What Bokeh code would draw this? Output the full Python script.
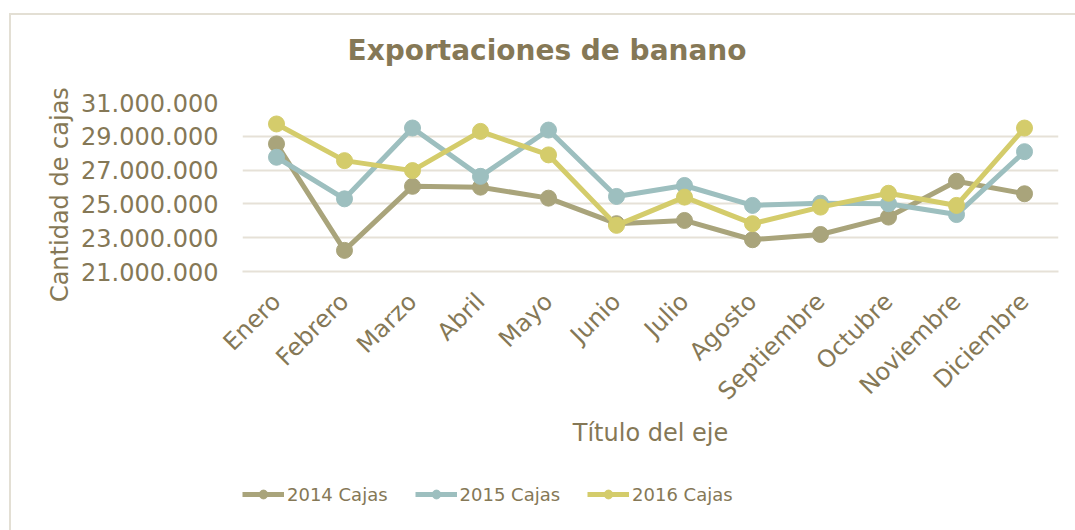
import math
from bokeh.plotting import figure
from bokeh.layouts import column
from bokeh.models import Range1d, FixedTicker, Legend, LegendItem, Label
from bokeh.embed import file_html
from bokeh.resources import INLINE

months = ["Enero", "Febrero", "Marzo", "Abril", "Mayo", "Junio", "Julio",
          "Agosto", "Septiembre", "Octubre", "Noviembre", "Diciembre"]
cajas_2014 = [28550000, 22250000, 26040000, 25990000, 25340000, 23830000,
              24020000, 22880000, 23190000, 24220000, 26340000, 25600000]
cajas_2015 = [27760000, 25300000, 29490000, 26630000, 29370000, 25440000,
              26090000, 24910000, 25040000, 25010000, 24370000, 28090000]
cajas_2016 = [29730000, 27560000, 26970000, 29290000, 27900000, 23730000,
              25400000, 23830000, 24810000, 25630000, 24910000, 29490000]
series = [cajas_2014, cajas_2015, cajas_2016]
series_names = ["2014 Cajas", "2015 Cajas", "2016 Cajas"]
y_ticks = [21000000, 23000000, 25000000, 27000000, 29000000, 31000000]
y_tick_labels = ["21.000.000", "23.000.000", "25.000.000", "27.000.000",
                 "29.000.000", "31.000.000"]
chart_title = "Exportaciones de banano"

colors = ["#A9A47B", "#9DBFBF", "#D4CC6B"]
TEXT = "#857856"
GRID = "#E6E1D7"
BORDER = "#E3DFD4"
FONT = "DejaVu Sans"

OX, OY = 11, 15  # offset of the chart canvas inside the bordered container
W = 1075 - OX


def strip(h):
    f = figure(width=W, height=h, x_range=months, y_range=Range1d(0, 1),
               output_backend="svg", toolbar_location=None,
               x_axis_type=None, y_axis_type=None, min_border=0)
    f.outline_line_color = None
    f.background_fill_color = "white"
    f.border_fill_color = "white"
    f.xgrid.visible = False
    f.ygrid.visible = False
    return f


# title strip
p0 = strip(52)
p0.add_layout(Label(x=105, y=17, x_units="screen", y_units="screen",
                    text=chart_title, text_font=FONT, text_font_size="28px",
                    text_font_style="bold", text_color=TEXT,
                    text_align="left", text_baseline="middle"))

# main chart
p = figure(width=W, height=403, x_range=months,
           y_range=Range1d(21000000, 31000000),
           output_backend="svg", toolbar_location=None,
           min_border_left=242 - OX, min_border_right=17,
           min_border_top=35, min_border_bottom=199)
p.background_fill_color = "white"
p.border_fill_color = "white"
p.outline_line_color = None

for vals, c in zip(series, colors):
    p.line(months, vals, line_color=c, line_width=5)
    p.scatter(months, vals, size=16, fill_color=c, line_color=c)

# y axis
p.yaxis.ticker = FixedTicker(ticks=y_ticks)
p.yaxis.major_label_overrides = {t: lab for t, lab in zip(y_ticks, y_tick_labels)}
p.yaxis.axis_line_color = None
p.yaxis.major_tick_line_color = None
p.yaxis.minor_tick_line_color = None
p.yaxis.major_label_text_font = FONT
p.yaxis.major_label_text_font_size = "24px"
p.yaxis.major_label_text_color = TEXT
p.yaxis.major_label_standoff = 18
p.yaxis.axis_label = "Cantidad de cajas" + "\u00a0" * 2
p.yaxis.axis_label_text_font = FONT
p.yaxis.axis_label_text_font_size = "24px"
p.yaxis.axis_label_text_font_style = "normal"
p.yaxis.axis_label_text_color = TEXT
p.yaxis.axis_label_standoff = 4

# x axis
p.xaxis.axis_line_color = GRID
p.xaxis.axis_line_width = 2
p.xaxis.major_tick_line_color = None
p.xaxis.minor_tick_line_color = None
p.xaxis.major_label_orientation = math.pi / 4
p.xaxis.major_label_text_font = FONT
p.xaxis.major_label_text_font_size = "24px"
p.xaxis.major_label_text_color = TEXT
p.xaxis.major_label_standoff = 20
p.xaxis.axis_label = "Título del eje"
p.xaxis.axis_label_text_font = FONT
p.xaxis.axis_label_text_font_size = "24px"
p.xaxis.axis_label_text_font_style = "normal"
p.xaxis.axis_label_text_color = TEXT
p.xaxis.axis_label_standoff = 1

p.xgrid.grid_line_color = None
p.ygrid.grid_line_color = GRID
p.ygrid.grid_line_width = 2

# legend strip below the chart (series drawn out of its y range, only the legend shows)
p2 = strip(60)
items = []
for n, vals, c in zip(series_names, series, colors):
    l = p2.line(months, vals, line_color=c, line_width=5)
    s = p2.scatter(months, vals, size=16, fill_color=c, line_color=c)
    items.append(LegendItem(label=n, renderers=[l, s]))
legend = Legend(items=items, orientation="horizontal", location=(0, 25),
                label_text_font=FONT, label_text_font_size="18px",
                label_text_color=TEXT, glyph_width=42, glyph_height=22,
                label_standoff=3, spacing=27, padding=0, margin=0,
                border_line_color=None, background_fill_alpha=0)
p2.add_layout(legend, "center")

layout = column(p0, p, p2, spacing=0, margin=(13, 0, 0, 9),
                styles={"border-left": "2px solid " + BORDER,
                        "border-top": "2px solid " + BORDER})

open("out.html", "w").write(file_html(layout, INLINE))
